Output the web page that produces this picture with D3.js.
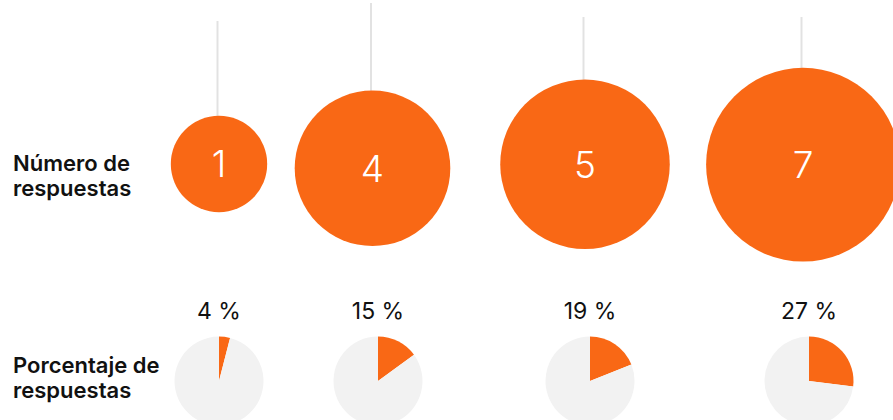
<!DOCTYPE html>
<html>
<head>
<meta charset="utf-8">
<script src="https://cdn.jsdelivr.net/npm/d3@7"></script>
<style>
    html, body { margin: 0; padding: 0; background: #fff; }
    svg { display: block; font-family: Inter, "Noto Sans", sans-serif; }
</style>
</head>
<body>
<div id="chart"></div>
<script>
// datos
const categorias = ['a', 'b', 'c', 'd']
const respuestas = [1, 4, 5, 7]
const porcentajes = [4, 15, 19, 27]
const etiquetasFila = [['Número de', 'respuestas'], ['Porcentaje de', 'respuestas']]

const width = 893
const height = 420
const naranja = '#f96815'
const grisPie = '#f2f2f2'

const svg = d3.select('#chart').append('svg')
    .attr('width', width)
    .attr('height', height)

// posiciones de columnas (las burbujas quedan algo desplazadas)
const xPie = d3.scaleOrdinal().domain(categorias).range([219, 378, 590, 809])
const xBurbuja = d3.scaleOrdinal().domain(categorias).range([219, 372.5, 585, 803])
const yBurbuja = d3.scaleOrdinal().domain(categorias).range([164, 168.3, 164.3, 164.7])
const yHilo = d3.scaleOrdinal().domain(categorias).range([21, 3, 17, 17])

// radio de burbuja
const r = d3.scaleSqrt()
    .domain([0, 7])
    .range([18.6, 96.9])

const filas = categorias.map((c, i) => ({ c, n: respuestas[i], p: porcentajes[i] }))

// hilos
svg.append('g')
    .selectAll('line')
    .data(filas)
    .join('line')
    .attr('x1', d => xBurbuja(d.c) - 1.5)
    .attr('x2', d => xBurbuja(d.c) - 1.5)
    .attr('y1', d => yHilo(d.c))
    .attr('y2', d => yBurbuja(d.c))
    .attr('stroke', '#e2e2e2')
    .attr('stroke-width', 2)

// burbujas
const burbujas = svg.append('g')
    .selectAll('g')
    .data(filas)
    .join('g')
    .attr('transform', d => `translate(${xBurbuja(d.c)},${yBurbuja(d.c)})`)

burbujas.append('circle')
    .attr('r', d => r(d.n))
    .attr('fill', naranja)

burbujas.append('text')
    .attr('text-anchor', 'middle')
    .attr('dy', '0.36em')
    .attr('fill', '#fff')
    .attr('font-size', 37)
    .attr('font-weight', 300)
    .text(d => d.n)

// tortas
const radioPie = 44.5
const yPie = 381
const pie = d3.pie().sort(null)
const arco = d3.arc().innerRadius(0).outerRadius(radioPie)

const tortas = svg.append('g')
    .selectAll('g')
    .data(filas)
    .join('g')
    .attr('transform', d => `translate(${xPie(d.c)},${yPie})`)

tortas.selectAll('path')
    .data(d => pie([d.p, 100 - d.p]))
    .join('path')
    .attr('d', arco)
    .attr('fill', (d, i) => i === 0 ? naranja : grisPie)

tortas.append('text')
    .attr('text-anchor', 'middle')
    .attr('y', 319 - yPie)
    .attr('fill', '#111')
    .attr('font-size', 23)
    .attr('font-weight', 400)
    .text(d => `${d.p} %`)

// etiquetas de fila
const yEtiquetas = [171, 373]
etiquetasFila.forEach((lineas, i) => {
    const t = svg.append('text')
        .attr('x', 13)
        .attr('y', yEtiquetas[i])
        .attr('fill', '#111')
        .attr('font-size', 22)
        .attr('font-weight', 600)
    lineas.forEach((l, j) => {
        t.append('tspan')
            .attr('x', 13)
            .attr('dy', j === 0 ? 0 : 24.5)
            .text(l)
    })
})
</script>
</body>
</html>
